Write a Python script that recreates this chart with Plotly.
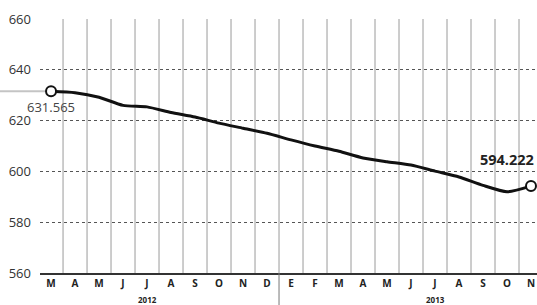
import plotly.graph_objects as go

months = ["M", "A", "M", "J", "J", "A", "S", "O", "N", "D",
          "E", "F", "M", "A", "M", "J", "J", "A", "S", "O", "N"]
values = [631.565, 631.0, 629.2, 626.0, 625.4, 623.2, 621.4, 619.0, 617.0, 615.0,
          612.4, 610.0, 607.9, 605.3, 603.8, 602.5, 600.1, 597.8, 594.5, 592.0, 594.222]
years = ["2012", "2013"]
year_pos = [4, 16]
y_ticks = [560, 580, 600, 620, 640, 660]

x = list(range(len(months)))
fig = go.Figure()

fig.add_trace(go.Scatter(
    x=x, y=values, mode="lines",
    line=dict(color="#111111", width=3, shape="spline", smoothing=0.6),
    hoverinfo="skip", showlegend=False))
fig.add_trace(go.Scatter(
    x=[x[0], x[-1]], y=[values[0], values[-1]], mode="markers",
    marker=dict(size=10, color="white", line=dict(color="#111111", width=2)),
    showlegend=False, hoverinfo="skip"))

shapes = []
for i in range(len(months) - 1):
    shapes.append(dict(type="line", xref="x", yref="paper", x0=i + 0.5, x1=i + 0.5,
                       y0=0, y1=1, line=dict(color="#9a9a9a", width=1), layer="below"))
# year separator
shapes.append(dict(type="line", xref="x", yref="paper", x0=9.5, x1=9.5, y0=-0.13, y1=0,
                   line=dict(color="#777777", width=1)))
# start level pointer line
shapes.append(dict(type="line", xref="paper", yref="y", x0=-0.09, x1=0.02,
                   y0=values[0], y1=values[0], line=dict(color="#c4c4c4", width=2), layer="below"))

annotations = [
    dict(x=x[0], y=values[0], xref="x", yref="y", text="631.565", showarrow=False,
         xshift=0, yshift=-16, font=dict(family="Open Sans", size=13, color="#444444")),
    dict(x=x[-1], y=values[-1], xref="x", yref="y", text="<b>594.222</b>", showarrow=False,
         xanchor="right", xshift=5, yshift=27, font=dict(family="Open Sans", size=14.5, color="#222222")),
]
for yr, p in zip(years, year_pos):
    annotations.append(dict(x=p, y=-0.075, xref="x", yref="paper", yanchor="top", text="<b>%s</b>" % yr,
                            showarrow=False, font=dict(family="Open Sans", size=8, color="#222222")))

fig.update_layout(
    width=537, height=305,
    margin=dict(l=40, r=0, t=19, b=32),
    paper_bgcolor="white", plot_bgcolor="white",
    shapes=shapes, annotations=annotations,
    xaxis=dict(range=[-0.46, 20.25], tickvals=x, ticktext=["<b>%s</b>" % m for m in months],
               showgrid=False, zeroline=False, showline=True, linecolor="#333333", linewidth=1.5,
               ticks="", automargin=False, tickfont=dict(family="Open Sans", size=10, color="#222222")),
    yaxis=dict(range=[560, 660], tickvals=y_ticks, showgrid=True, gridcolor="#555555",
               griddash="dot", gridwidth=1, zeroline=False, ticks="", ticklabelstandoff=8,
               automargin=False, tickfont=dict(family="Open Sans", size=13, color="#333333")),
)

fig.write_html("out.html", config={"displayModeBar": False},
               post_script="document.body.style.margin='0px';document.body.style.overflow='hidden';")
